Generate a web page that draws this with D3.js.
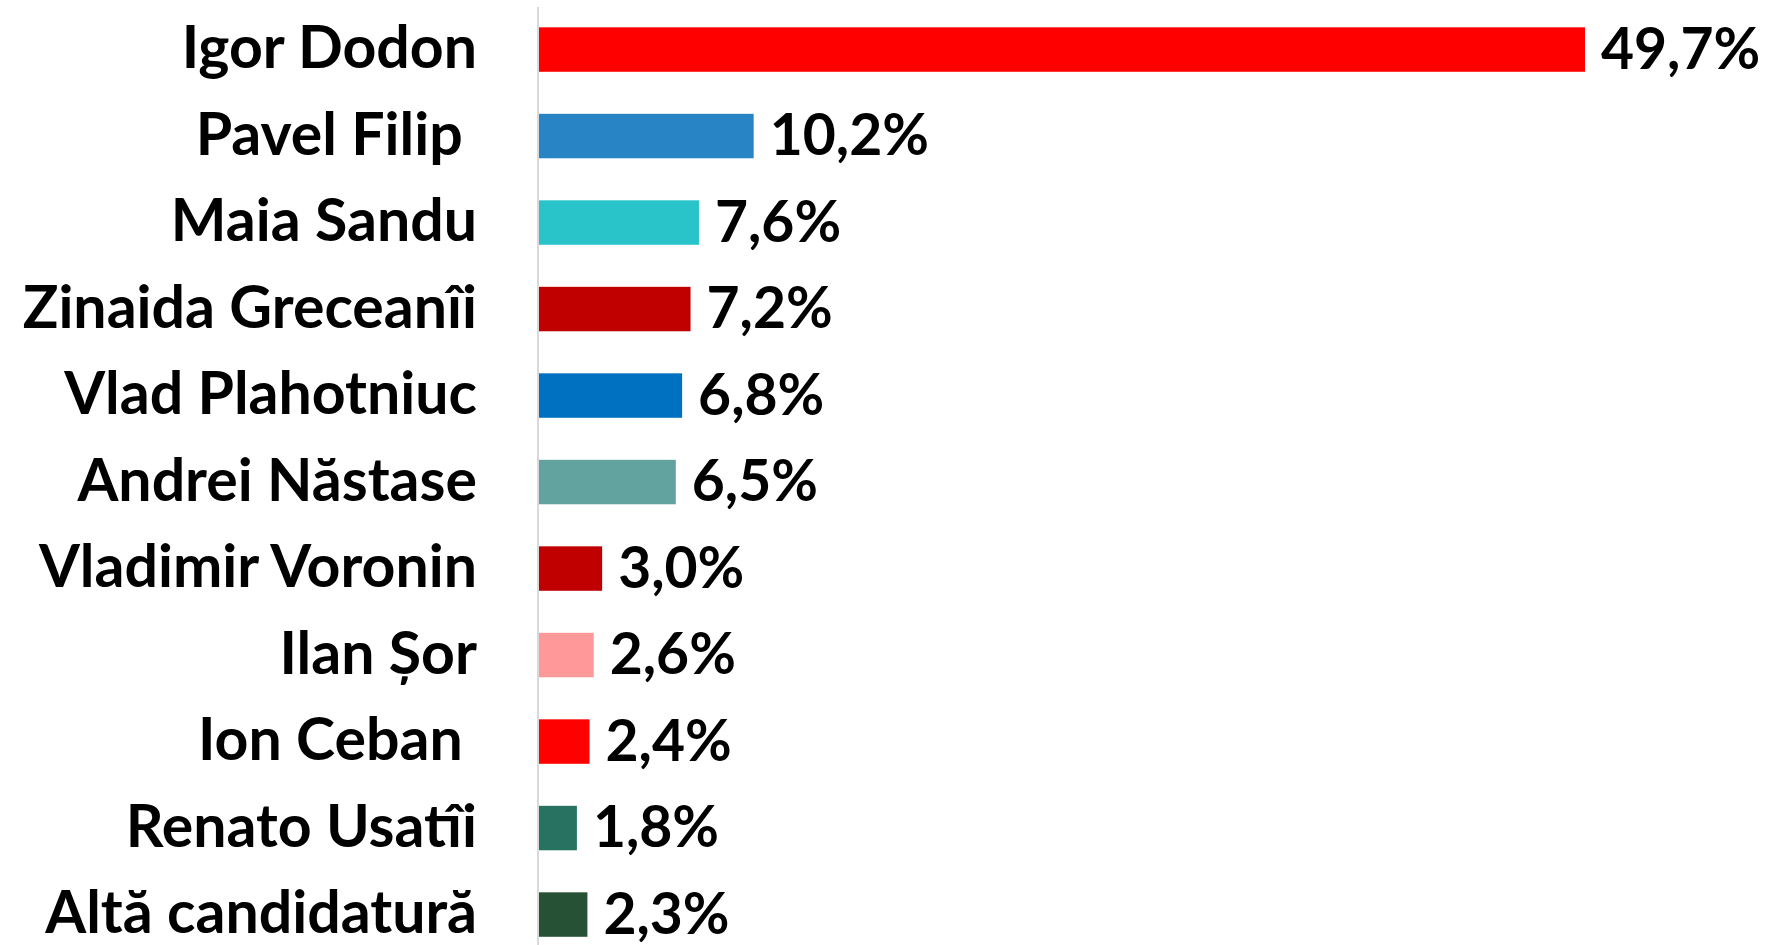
<!DOCTYPE html>
<html>
<head>
<meta charset="utf-8">
<script src="https://cdn.jsdelivr.net/npm/d3@7"></script>
<style>
  html, body { margin: 0; padding: 0; background: #fff; }
  svg { display: block; }
  text { font-family: Lato, "Open Sans", sans-serif; font-weight: 700; fill: #000; white-space: pre; }
</style>
</head>
<body>
<svg id="chart" width="1770" height="945"></svg>
<script>
const categories = ["Igor Dodon", "Pavel Filip ", "Maia Sandu", "Zinaida Greceanîi", "Vlad Plahotniuc",
  "Andrei Năstase", "Vladimir Voronin", "Ilan Șor", "Ion Ceban ", "Renato Usatîi", "Altă candidatură"];
const values = [49.7, 10.2, 7.6, 7.2, 6.8, 6.5, 3.0, 2.6, 2.4, 1.8, 2.3];
const colors = ["#FF0000", "#2984C6", "#28C4CA", "#C00000", "#0070C0", "#63A39F", "#C00000",
  "#FF9999", "#FF0000", "#287261", "#265134"];

const svg = d3.select("#chart");
const W = 1770, H = 945;
const x0 = 539;

const x = d3.scaleLinear().domain([0, 49.7]).range([x0, 1585]);
const y = d3.scaleBand().domain(categories).range([6.3, 957.8]).paddingInner(0.486).paddingOuter(0.243);

const loc = d3.formatLocale({ decimal: ",", thousands: ".", grouping: [3], currency: ["", ""] });
const fmt = v => loc.format(".1f")(v) + "%";

// axis line
svg.append("line")
  .attr("x1", x0 - 1).attr("x2", x0 - 1)
  .attr("y1", 7).attr("y2", H)
  .attr("stroke", "#D9D9D9").attr("stroke-width", 2);

// bars
svg.selectAll("rect.bar").data(categories).join("rect")
  .attr("class", "bar")
  .attr("x", x(0))
  .attr("y", d => y(d))
  .attr("width", (d, i) => x(values[i]) - x(0))
  .attr("height", y.bandwidth())
  .attr("fill", (d, i) => colors[i]);

// category labels
svg.selectAll("text.cat").data(categories).join("text")
  .attr("class", "cat")
  .attr("x", 477)
  .attr("y", d => y(d) + y.bandwidth() / 2)
  .attr("dy", "0.32em")
  .attr("text-anchor", "end")
  .attr("font-size", 59)
  .text(d => d);

// value labels
svg.selectAll("text.val").data(categories).join("text")
  .attr("class", "val")
  .attr("x", (d, i) => x(values[i]) + 16)
  .attr("y", d => y(d) + y.bandwidth() / 2)
  .attr("dy", "0.34em")
  .attr("font-size", 57)
  .text((d, i) => fmt(values[i]));
</script>
</body>
</html>
